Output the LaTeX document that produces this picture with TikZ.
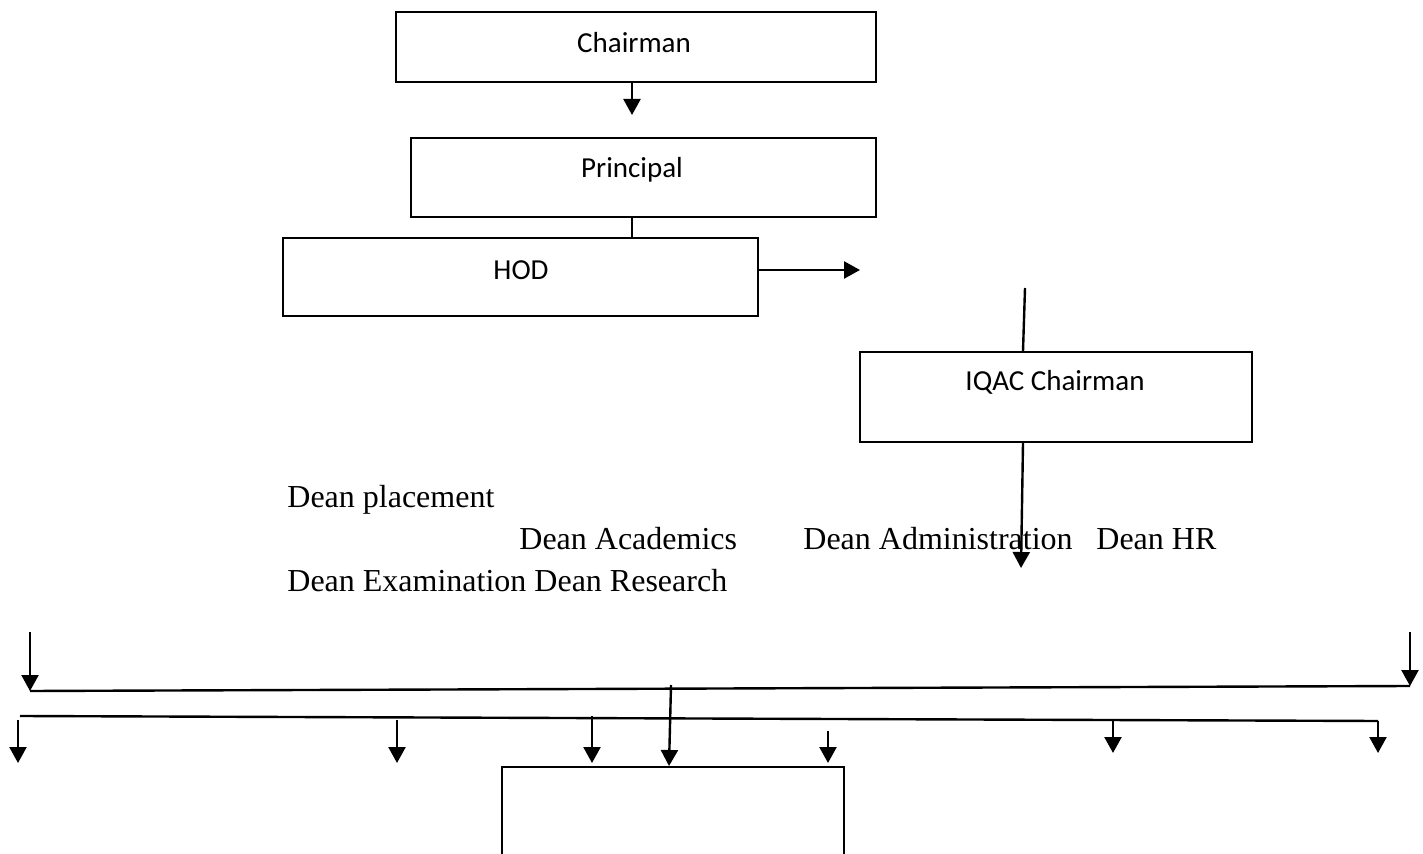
\documentclass[tikz,border=0pt]{standalone}
\usepackage{fontspec}
\setmainfont{Liberation Serif}
\newfontfamily\boxfont{Carlito}
\usetikzlibrary{arrows.meta}

\begin{document}
\begin{tikzpicture}[
x=0.5pt, y=-0.5pt,
orgbox/.style={rectangle, draw=black, line width=1pt, inner sep=0pt},
boxtext/.style={font=\boxfont\fontsize{14.5}{17}\selectfont, inner sep=0pt},
deantext/.style={font=\fontsize{16}{19}\selectfont, inner sep=0pt, anchor=base west},
link/.style={line width=1.2pt},
arrowlink/.style={line width=1.2pt, -{Triangle[length=8pt, width=8.5pt]}},
]
\clip (0,0) rectangle (1423,854);

%Boxes
\node[orgbox, minimum width=240pt, minimum height=35pt] (chairman)  at (636,47)  {};
\node[orgbox, minimum width=232.5pt, minimum height=39.5pt] (principal) at (643.5,177.5) {};
\node[orgbox, minimum width=237.5pt, minimum height=39pt] (hod)       at (520.5,277) {};
\node[orgbox, minimum width=196pt, minimum height=45pt] (iqac)      at (1056,397) {};
\node[orgbox, minimum width=171pt, minimum height=80pt] (cell)      at (673,847) {};

%Box texts
\node[boxtext] (chairmantext)  at (634,43)  {Chairman};
\node[boxtext] (principaltext) at (632,170) {Principal};
\node[boxtext] (hodtext)       at (521,270) {HOD};
\node[boxtext] (iqactext)      at (1055,382) {IQAC Chairman};

%Dean texts
\node[deantext] (placement)  at (287,508) {Dean placement};
\node[deantext] (academics)  at (519,550) {Dean Academics};
\node[deantext] (admin)      at (803,550) {Dean Administration};
\node[deantext] (hr)         at (1096,550) {Dean HR};
\node[deantext] (exam)       at (287,592) {Dean Examination Dean Research};

%Free ends
\coordinate (chairmanend) at (632,115);
\coordinate (hodend)      at (860,270);
\coordinate (iqactop)     at (1025,288);
\coordinate (iqacend)     at (1021,568);
\coordinate (topleft)     at (30,691);
\coordinate (topright)    at (1410,686);
\coordinate (lowleft)     at (20,716);
\coordinate (lowright)    at (1378,721);

%Lines
\draw[arrowlink] (chairman.south -| chairmanend) -- (chairmanend);
\draw[link] (principal.south -| 632,0) -- (hod.north -| 632,0);
\draw[arrowlink] (hod.east |- hodend) -- (hodend);
\draw[link] (iqactop) -- (iqac.north -| 1023,0);
\draw[arrowlink] (iqac.south -| 1023,0) -- (iqacend);

%Top rail
\draw[arrowlink] (30,632) -- (topleft);
\draw[arrowlink] (1410,632) -- (topright);
\draw[link] (topleft) -- (topright);
\draw[arrowlink] (671,685) -- (cell.north -| 669,0);

%Lower rail
\draw[link] (lowleft) -- (lowright);
\foreach \xa/\ya/\yb in {18/720/763, 397/720/763, 592/716/763, 828/731/763, 1113/720/753, 1378/721/753}
  \draw[arrowlink] (\xa,\ya) -- (\xa,\yb);
\end{tikzpicture}
\end{document}
